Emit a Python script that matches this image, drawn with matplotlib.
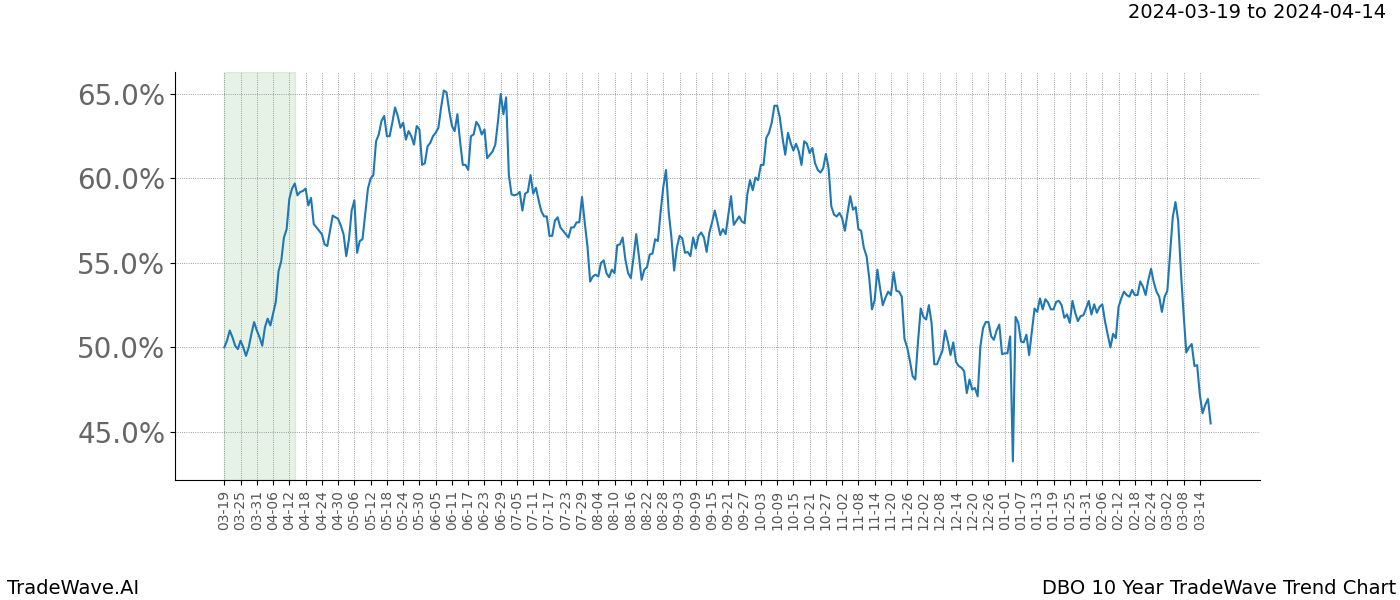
import pandas as pd
import matplotlib
matplotlib.use("Agg")
import matplotlib.pyplot as plt
import matplotlib.dates as mdates
from matplotlib.ticker import FuncFormatter


START = '2024-03-19'
HIGHLIGHT = ('2024-03-19', '2024-04-14')
TITLE = '2024-03-19 to 2024-04-14'
BRAND = 'TradeWave.AI'
CHART_NAME = 'DBO 10 Year TradeWave Trend Chart'

# daily values (%), one per calendar day from START
values = [
    50.0, 50.4, 51.0, 50.6, 50.1, 49.9, 50.4, 50.0, 49.5, 50.0,
    50.8, 51.5, 51.0, 50.6, 50.1, 51.2, 51.7, 51.3, 52.0, 52.7,
    54.5, 55.1, 56.5, 57.0, 58.8, 59.4, 59.7, 59.0, 59.2, 59.25,
    59.4, 58.4, 58.85, 57.3, 57.1, 56.9, 56.7, 56.1, 56.0, 56.9,
    57.8, 57.7, 57.6, 57.2, 56.7, 55.4, 56.4, 58.1, 58.7, 55.6,
    56.3, 56.4, 57.9, 59.4, 60.0, 60.2, 62.2, 62.6, 63.4, 63.7,
    62.5, 62.5, 63.3, 64.2, 63.7, 63.0, 63.3, 62.3, 62.8, 62.5,
    62.0, 63.1, 62.9, 60.8, 60.9, 61.9, 62.1, 62.5, 62.7, 63.0,
    64.2, 65.2, 65.1, 64.0, 63.1, 62.8, 63.8, 62.2, 60.8, 60.8,
    60.5, 62.5, 62.6, 63.35, 63.1, 62.6, 62.9, 61.2, 61.4, 61.6,
    62.0, 63.4, 65.0, 63.8, 64.8, 60.2, 59.05, 59.0, 59.05, 59.2,
    58.1, 59.1, 59.2, 60.2, 59.1, 59.45, 58.7, 58.05, 57.75, 57.75,
    56.6, 56.6, 57.5, 57.7, 57.1, 56.9, 56.7, 56.5, 57.1, 57.1,
    57.4, 57.4, 58.9, 57.4, 56.0, 53.9, 54.2, 54.3, 54.2, 55.0,
    55.15, 54.4, 54.15, 54.6, 54.4, 56.05, 56.1, 56.5, 55.2, 54.4,
    54.1, 55.3, 56.7, 55.4, 54.0, 54.6, 54.75, 55.5, 55.55, 56.4,
    56.3, 58.0, 59.5, 60.5, 58.0, 56.5, 54.55, 55.9, 56.6, 56.45,
    55.6, 55.65, 55.4, 56.5, 55.85, 56.6, 56.8, 56.5, 55.65, 56.8,
    57.4, 58.1, 57.4, 56.65, 57.0, 56.7, 57.85, 58.95, 57.25, 57.5,
    57.75, 57.45, 57.35, 59.05, 59.9, 59.3, 60.05, 59.9, 60.8, 60.8,
    62.4, 62.7, 63.3, 64.3, 64.3, 63.6, 62.4, 61.4, 62.7, 62.1,
    61.65, 62.05, 61.6, 60.8, 62.2, 62.05, 61.5, 61.8, 60.9, 60.5,
    60.35, 60.6, 61.45, 60.6, 58.35, 57.85, 57.75, 57.95, 57.65, 56.9,
    57.95, 58.95, 58.15, 58.3, 57.0, 56.9, 55.9, 55.4, 54.1, 52.25,
    52.8, 54.6, 53.5, 52.5, 52.95, 53.3, 53.1, 54.45, 53.35, 53.3,
    53.0, 50.5, 50.0, 49.2, 48.3, 48.1, 50.35, 52.3, 51.8, 51.65,
    52.5, 51.45, 49.0, 49.0, 49.4, 49.8, 51.0, 50.35, 49.55, 50.3,
    49.15, 48.9, 48.8, 48.6, 47.3, 48.1, 47.5, 47.6, 47.1, 50.05,
    51.15, 51.5, 51.5, 50.65, 50.45, 51.0, 51.35, 49.6, 49.65, 49.65,
    50.65, 43.25, 51.8, 51.45, 50.35, 50.3, 50.75, 49.55, 50.95, 52.3,
    52.1, 52.9, 52.25, 52.85, 52.65, 52.25, 52.25, 52.7, 52.75, 52.5,
    51.75, 51.95, 51.45, 52.75, 52.05, 51.55, 51.85, 51.9, 52.3, 52.75,
    51.95, 52.55, 52.05, 52.4, 52.55, 51.55, 50.75, 50.0, 50.8, 50.55,
    52.4, 52.9, 53.3, 53.1, 53.0, 53.4, 53.1, 53.1, 53.9, 53.6,
    53.1, 54.0, 54.65, 53.85, 53.3, 53.0, 52.1, 53.0, 53.35, 55.5,
    57.7, 58.6, 57.5, 54.5, 52.0, 49.7, 50.0, 50.2, 48.9, 48.95,
    47.2, 46.1, 46.6, 46.95, 45.5,
]

dates = pd.date_range(START, periods=len(values), freq='D')


def draw_chart():
    fig, ax = plt.subplots(figsize=(14, 6), dpi=100)
    fig.subplots_adjust(left=0.125, right=0.9, top=0.88, bottom=0.2)

    ax.axvspan(pd.Timestamp(HIGHLIGHT[0]), pd.Timestamp(HIGHLIGHT[1]),
               color='green', alpha=0.1)
    ax.plot(dates, values, color='#1f77b4', linewidth=1.5)

    ax.set_xticks(dates[::6])
    ax.xaxis.set_major_formatter(mdates.DateFormatter('%m-%d'))
    ax.yaxis.set_major_formatter(FuncFormatter(lambda v, _: f'{v:.1f}%'))
    ax.tick_params(axis='x', labelrotation=90, labelsize=10, labelcolor='#555555')
    ax.tick_params(axis='y', labelsize=20, labelcolor='#666666')

    ax.grid(True, linestyle=':', linewidth=0.6, color='gray')
    ax.spines['top'].set_visible(False)
    ax.spines['right'].set_visible(False)

    fig.text(0.99, 0.995, TITLE, ha='right', va='top', fontsize=14)
    fig.text(0.005, 0.003, BRAND, ha='left', va='bottom', fontsize=14)
    fig.text(0.997, 0.003, CHART_NAME, ha='right', va='bottom', fontsize=14)

    fig.savefig('out.png')


if __name__ == "__main__":
    draw_chart()
